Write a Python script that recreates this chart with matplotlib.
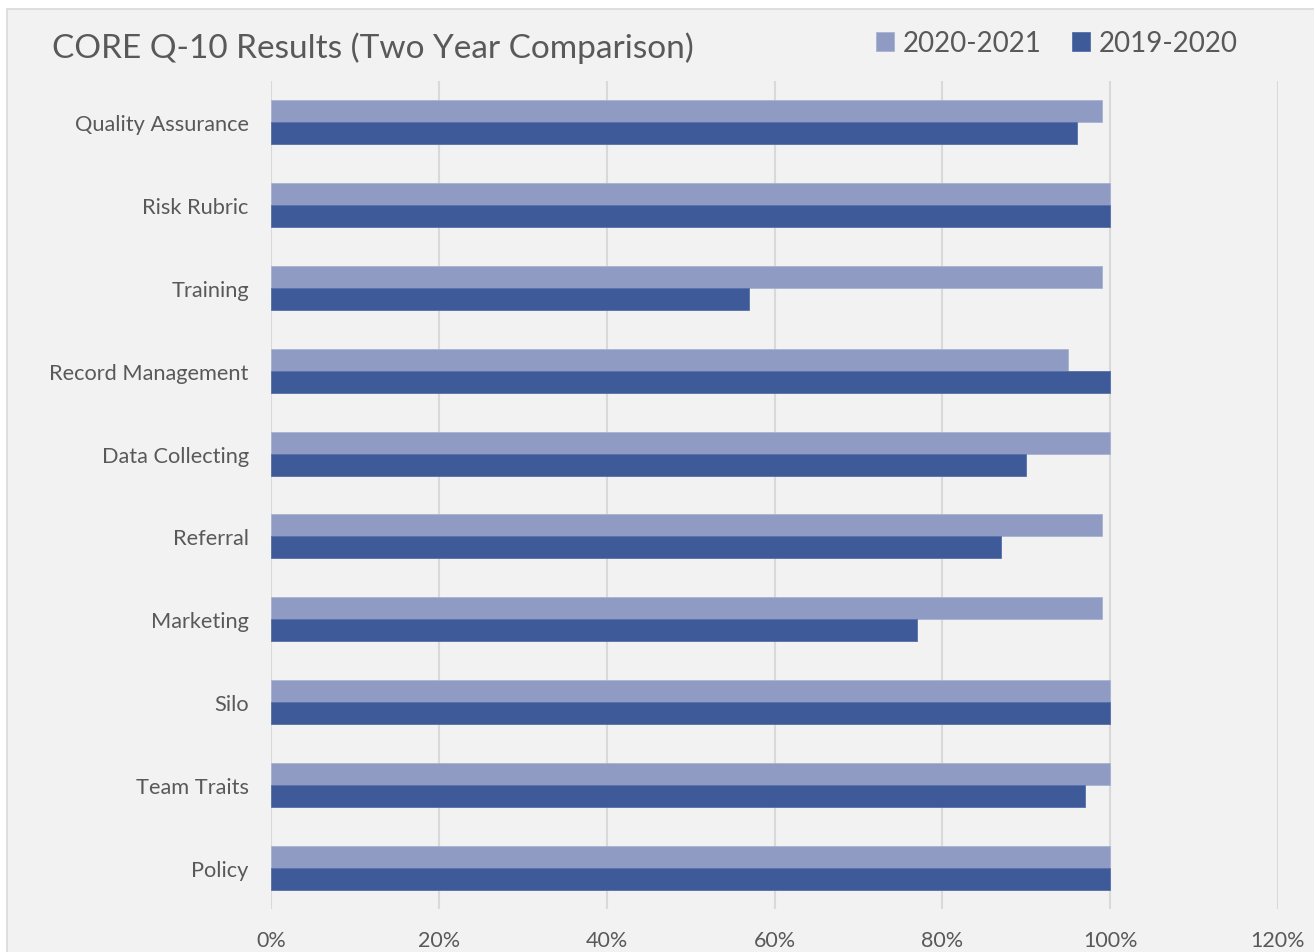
import matplotlib.pyplot as plt
from matplotlib.patches import Rectangle
import numpy as np

categories = ['Quality Assurance', 'Risk Rubric', 'Training', 'Record Management',
              'Data Collecting', 'Referral', 'Marketing', 'Silo', 'Team Traits', 'Policy']
values_2021 = [0.99, 1.00, 0.99, 0.95, 1.00, 0.99, 0.99, 1.00, 1.00, 1.00]
values_2020 = [0.96, 1.00, 0.57, 1.00, 0.90, 0.87, 0.77, 1.00, 0.97, 1.00]
x_ticks = [0, 0.2, 0.4, 0.6, 0.8, 1.0, 1.2]
x_tick_labels = ['0%', '20%', '40%', '60%', '80%', '100%', '120%']

plt.rcParams['font.family'] = ['Lato', 'DejaVu Sans']
text_color = '#595959'
light = '#8F9BC2'
dark = '#3F5A98'
bg = '#F2F2F2'

W, H = 1314, 953
fig = plt.figure(figsize=(W / 100, H / 100), dpi=100)
fig.patch.set_facecolor('white')

# chart area background with thin border (runs off the right/bottom edge)
fig.patches.append(Rectangle((7 / W, -0.01), 1.02, 1 - 10 / H + 0.01,
                             transform=fig.transFigure, facecolor=bg,
                             edgecolor='#D9D9D9', linewidth=1.2, zorder=-10))

ax = fig.add_axes([271 / W, 1 - 910 / H, (1278 - 271) / W, (910 - 82) / H])
ax.set_facecolor(bg)
ax.set_zorder(1)

y = np.arange(len(categories))
h = 0.265
ax.barh(y - h / 2, values_2021, height=h, color=light, edgecolor='#A9B3D2',
        linewidth=0.6, label='2020-2021', zorder=3)
ax.barh(y + h / 2, values_2020, height=h, color=dark, edgecolor='#5670A8',
        linewidth=0.6, label='2019-2020', zorder=3)

ax.set_ylim(len(categories) - 0.5, -0.5)
ax.set_xlim(0, 1.2)
ax.set_yticks(y)
ax.set_yticklabels(categories, fontsize=15.7, color=text_color)
ax.set_xticks(x_ticks)
ax.set_xticklabels(x_tick_labels, fontsize=15.5, color=text_color)
ax.tick_params(axis='both', length=0)
ax.tick_params(axis='y', pad=16)
ax.tick_params(axis='x', pad=15)
ax.xaxis.grid(True, color='#D9D9D9', linewidth=1.5, zorder=0)
ax.set_axisbelow(True)
for s in ax.spines.values():
    s.set_visible(False)

fig.text(52 / W, 1 - 48 / H, 'CORE Q-10 Results (Two Year Comparison)',
         fontsize=24, color=text_color, va='center', ha='left')

handles, labels = ax.get_legend_handles_labels()
leg = fig.legend(handles, labels, loc='center left', ncol=2, frameon=False,
                 bbox_to_anchor=(865 / W, 1 - 44 / H), fontsize=20,
                 handlelength=0.65, handleheight=0.65, handletextpad=0.3,
                 columnspacing=1.1, borderaxespad=0)
for t in leg.get_texts():
    t.set_color(text_color)

fig.savefig('out.png', dpi=100, facecolor=fig.get_facecolor())
